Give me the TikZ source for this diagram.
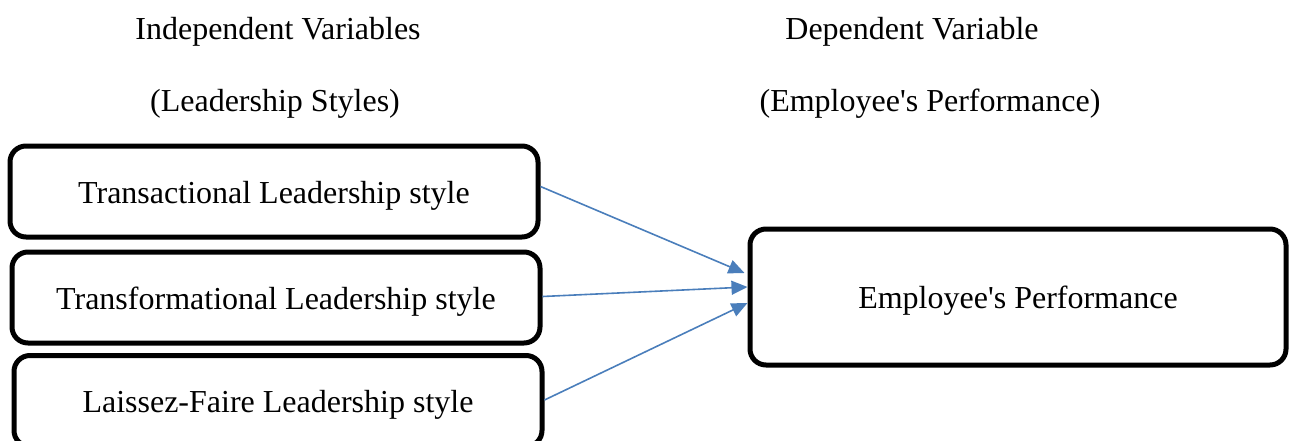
\documentclass[tikz,border=0pt]{standalone}
\usepackage{fontspec}
\setmainfont{Liberation Serif}
\usetikzlibrary{arrows.meta}
\definecolor{arrowblue}{HTML}{4A7EBB}
\begin{document}
\begin{tikzpicture}[x=1pt,y=1pt,
  every node/.style={font=\fontsize{32}{38}\selectfont, text height=30pt, text depth=7pt},
  stylebox/.style={draw=black, line width=5pt, rounded corners=16pt, minimum width=528pt, minimum height=91pt, inner sep=0pt},
  perfbox/.style={draw=black, line width=5pt, rounded corners=16pt, minimum width=536pt, minimum height=136pt, inner sep=0pt},
  heading/.style={inner sep=0pt},
  link/.style={draw=arrowblue, line width=1.6pt, -{Triangle[length=16pt,width=14pt]}}]
\useasboundingbox (0,0) rectangle (1291,-440);
\node[heading] (h1) at (278,-28) {Independent Variables};
\node[heading] (h2) at (275,-100) {(Leadership Styles)};
\node[heading] (h3) at (912,-28) {Dependent Variable};
\node[heading] (h4) at (930,-100) {(Employee\textquotesingle s Performance)};
\node[stylebox] (b1) at (274,-191.5) {Transactional Leadership style};
\node[stylebox] (b2) at (276,-297.5) {Transformational Leadership style};
\node[stylebox] (b3) at (278,-401) {Laissez-Faire Leadership style};
\node[perfbox] (emp) at (1018,-297) {Employee\textquotesingle s Performance};
\draw[link] ([yshift=5pt]b1.east) -- ([xshift=-3pt,yshift=24pt]emp.west);
\draw[link] ([yshift=1pt]b2.east) -- ([yshift=10pt]emp.west);
\draw[link] ([yshift=1pt]b3.east) -- ([yshift=-6pt]emp.west);
\end{tikzpicture}
\end{document}
